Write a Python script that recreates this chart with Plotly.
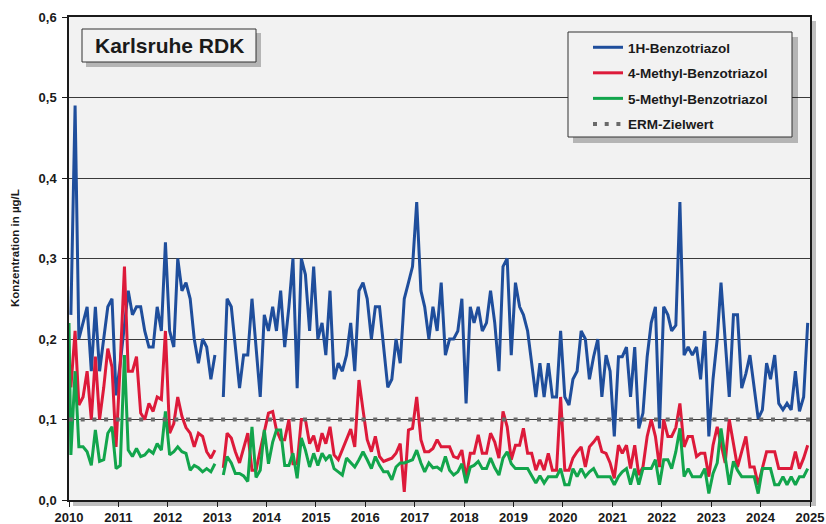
import pandas as pd
import plotly.graph_objects as go

# ---------------- data (monthly samples, Jan 2010 - Dec 2024) ----------------
MONTHS = (pd.date_range("2010-01-01", periods=180, freq="MS") + pd.Timedelta(days=14)).strftime("%Y-%m-%d").tolist()

BLUE = [
    0.23, 0.49, 0.20, 0.22, 0.24, 0.16, 0.24, 0.16, 0.20, 0.24, 0.25, 0.13,   # 2010
    0.17, 0.22, 0.26, 0.23, 0.24, 0.24, 0.21, 0.19, 0.19, 0.24, 0.21, 0.32,   # 2011
    0.21, 0.19, 0.30, 0.26, 0.27, 0.25, 0.20, 0.17, 0.20, 0.19, 0.15, 0.18,   # 2012
    None, 0.128, 0.25, 0.24, 0.19, 0.139, 0.18, 0.18, 0.25, 0.19, 0.128, 0.23,  # 2013
    0.21, 0.24, 0.21, 0.26, 0.19, 0.24, 0.30, 0.139, 0.30, 0.28, 0.21, 0.29,  # 2014
    0.20, 0.22, 0.18, 0.26, 0.15, 0.17, 0.16, 0.18, 0.22, 0.16, 0.26, 0.27,   # 2015
    0.25, 0.20, 0.24, 0.24, 0.19, 0.14, 0.15, 0.20, 0.17, 0.25, 0.27, 0.29,   # 2016
    0.37, 0.26, 0.24, 0.20, 0.24, 0.21, 0.27, 0.18, 0.20, 0.20, 0.21, 0.25,   # 2017
    0.12, 0.24, 0.22, 0.24, 0.21, 0.22, 0.26, 0.22, 0.16, 0.29, 0.30, 0.18,   # 2018
    0.27, 0.24, 0.23, 0.21, 0.17, 0.128, 0.17, 0.128, 0.17, 0.128, 0.128, 0.21,  # 2019
    0.128, 0.118, 0.15, 0.16, 0.21, 0.20, 0.15, 0.178, 0.20, 0.128, 0.18, 0.16,  # 2020
    0.079, 0.178, 0.178, 0.19, 0.128, 0.19, 0.089, 0.108, 0.178, 0.22, 0.24, 0.089,  # 2021
    0.24, 0.23, 0.21, 0.217, 0.37, 0.18, 0.19, 0.18, 0.19, 0.15, 0.21, 0.079,  # 2022
    0.15, 0.20, 0.27, 0.20, 0.128, 0.23, 0.23, 0.139, 0.157, 0.18, 0.139, 0.101,  # 2023
    0.112, 0.17, 0.15, 0.18, 0.12, 0.112, 0.12, 0.112, 0.16, 0.11, 0.128, 0.22,  # 2024
]

RED = [
    0.14, 0.21, 0.118, 0.128, 0.16, 0.10, 0.178, 0.10, 0.14, 0.188, 0.165, 0.066,  # 2010
    0.17, 0.29, 0.16, 0.16, 0.178, 0.108, 0.10, 0.12, 0.11, 0.128, 0.125, 0.21,    # 2011
    0.083, 0.095, 0.128, 0.104, 0.09, 0.083, 0.066, 0.083, 0.079, 0.06, 0.052, 0.062,  # 2012
    None, 0.04, 0.083, 0.077, 0.06, 0.046, 0.065, 0.083, 0.037, 0.037, 0.062, 0.085,   # 2013
    0.108, 0.11, 0.087, 0.075, 0.075, 0.10, 0.045, 0.045, 0.10, 0.10, 0.07, 0.08,      # 2014
    0.06, 0.083, 0.07, 0.091, 0.056, 0.05, 0.063, 0.075, 0.088, 0.066, 0.149, 0.112,   # 2015
    0.075, 0.06, 0.079, 0.054, 0.048, 0.05, 0.052, 0.058, 0.07, 0.01, 0.087, 0.089,    # 2016
    0.128, 0.075, 0.06, 0.06, 0.064, 0.075, 0.066, 0.066, 0.066, 0.054, 0.052, 0.062,  # 2017
    0.027, 0.058, 0.058, 0.081, 0.058, 0.058, 0.083, 0.072, 0.052, 0.11, 0.091, 0.05,  # 2018
    0.068, 0.068, 0.089, 0.058, 0.058, 0.037, 0.05, 0.037, 0.058, 0.037, 0.037, 0.128, # 2019
    0.037, 0.037, 0.052, 0.06, 0.066, 0.041, 0.066, 0.072, 0.079, 0.06, 0.058, 0.046,  # 2020
    0.027, 0.068, 0.058, 0.068, 0.039, 0.068, 0.031, 0.041, 0.079, 0.10, 0.079, 0.041, # 2021
    0.10, 0.079, 0.079, 0.09, 0.12, 0.066, 0.079, 0.079, 0.054, 0.058, 0.058, 0.029,   # 2022
    0.068, 0.091, 0.07, 0.046, 0.10, 0.068, 0.041, 0.06, 0.079, 0.041, 0.041, 0.019,   # 2023
    0.04, 0.06, 0.06, 0.06, 0.039, 0.039, 0.039, 0.039, 0.06, 0.039, 0.052, 0.068,     # 2024
]

GREEN_START = ("2010-01-01", 0.22)
GREEN = [
    0.056, 0.16, 0.066, 0.066, 0.06, 0.043, 0.087, 0.048, 0.05, 0.083, 0.091, 0.039,   # 2010
    0.043, 0.18, 0.062, 0.054, 0.064, 0.054, 0.056, 0.062, 0.058, 0.07, 0.062, 0.11,   # 2011
    0.056, 0.06, 0.066, 0.06, 0.058, 0.037, 0.043, 0.04, 0.035, 0.039, 0.035, 0.045,   # 2012
    None, 0.031, 0.054, 0.046, 0.033, 0.033, 0.03, 0.023, 0.091, 0.028, 0.037, 0.087,  # 2013
    0.045, 0.072, 0.087, 0.087, 0.043, 0.043, 0.058, 0.027, 0.077, 0.062, 0.041, 0.058,  # 2014
    0.043, 0.058, 0.05, 0.056, 0.039, 0.035, 0.031, 0.052, 0.046, 0.041, 0.05, 0.06,   # 2015
    0.05, 0.039, 0.054, 0.043, 0.035, 0.035, 0.025, 0.041, 0.046, 0.046, 0.048, 0.05,  # 2016
    0.062, 0.046, 0.035, 0.046, 0.04, 0.041, 0.037, 0.054, 0.037, 0.031, 0.035, 0.045, # 2017
    0.021, 0.041, 0.043, 0.048, 0.039, 0.039, 0.052, 0.04, 0.031, 0.052, 0.06, 0.045,  # 2018
    0.039, 0.039, 0.039, 0.039, 0.03, 0.021, 0.03, 0.021, 0.029, 0.029, 0.029, 0.039,  # 2019
    0.019, 0.019, 0.039, 0.029, 0.039, 0.029, 0.035, 0.039, 0.029, 0.029, 0.029, 0.029,  # 2020
    0.019, 0.029, 0.035, 0.039, 0.019, 0.039, 0.019, 0.039, 0.039, 0.039, 0.05, 0.019,  # 2021
    0.05, 0.05, 0.039, 0.06, 0.089, 0.029, 0.039, 0.029, 0.029, 0.029, 0.039, 0.008,   # 2022
    0.033, 0.046, 0.089, 0.05, 0.019, 0.048, 0.037, 0.029, 0.029, 0.029, 0.029, 0.008,  # 2023
    0.039, 0.039, 0.039, 0.019, 0.019, 0.029, 0.019, 0.029, 0.019, 0.029, 0.029, 0.039,  # 2024
]

ERM_TARGET = 0.1
ERM_SPAN = ["2010-01-01", "2025-01-01"]

SERIES_NAMES = ["1H-Benzotriazol", "4-Methyl-Benzotriazol", "5-Methyl-Benzotriazol", "ERM-Zielwert"]
YEAR_TICKS = [str(y) for y in range(2010, 2026)]
Y_TICKS = [0.0, 0.1, 0.2, 0.3, 0.4, 0.5, 0.6]
TITLE = "Karlsruhe RDK"
Y_TITLE = "Konzentration in µg/L"

# ---------------- layout geometry (pixels) ----------------
W, H = 826, 524
L, R, T, B = 69, 16, 17, 24
PW, PH = W - L - R, H - T - B


def px_x(x):
    return (x - L) / PW


def px_y(y):
    return (H - B - y) / PH


def box(x0, y0, x1, y1, fill, line=None, layer="above"):
    return dict(type="rect", xref="paper", yref="paper", layer=layer,
                x0=px_x(x0), x1=px_x(x1), y0=px_y(y1), y1=px_y(y0),
                fillcolor=fill, line=line or dict(width=0))


FONT = "Liberation Sans, Arial, sans-serif"
BLUE_C, RED_C, GREEN_C, GREY_C = "#1f4e9c", "#dd1a3a", "#12a54c", "#6a6a6a"
BG = "#f2f2f2"
SHADOW = "rgba(0,0,0,0.25)"

fig = go.Figure()

fig.add_trace(go.Scatter(x=MONTHS, y=BLUE, mode="lines", name=SERIES_NAMES[0],
                         line=dict(color=BLUE_C, width=3), legendgroup="a"))
fig.add_trace(go.Scatter(x=MONTHS, y=RED, mode="lines", name=SERIES_NAMES[1],
                         line=dict(color=RED_C, width=3), legendgroup="b"))
fig.add_trace(go.Scatter(x=[GREEN_START[0]] + MONTHS, y=[GREEN_START[1]] + GREEN, mode="lines",
                         name=SERIES_NAMES[2], line=dict(color=GREEN_C, width=3), legendgroup="c"))
fig.add_trace(go.Scatter(x=ERM_SPAN, y=[ERM_TARGET, ERM_TARGET], mode="lines", name=SERIES_NAMES[3],
                         line=dict(color=GREY_C, width=4, dash="4px,7.7px"), legendgroup="d"))

shapes = [
    # plot area shadow + background
    box(L + 4, T + 4, L + PW + 6, T + PH + 6, SHADOW, layer="below"),
    box(L, T, L + PW, T + PH, BG, layer="below"),
    # title box (shadow + box)
    box(86, 33, 261, 67, SHADOW),
    box(82, 29, 256, 62, BG, line=dict(color="#333333", width=1)),
    # legend box (shadow + box)
    box(573, 37, 798, 143, SHADOW),
    box(568, 32, 792, 137, BG, line=dict(color="#333333", width=1)),
]

fig.update_layout(
    width=W, height=H,
    margin=dict(l=L, r=R, t=T, b=B, autoexpand=False),
    paper_bgcolor="white",
    plot_bgcolor="rgba(0,0,0,0)",
    separators=",.",
    font=dict(family=FONT, size=12, color="#1a1a1a", weight="bold"),
    showlegend=True,
    legend=dict(
        x=px_x(588), y=px_y(32), xanchor="left", yanchor="top",
        bgcolor="rgba(0,0,0,0)", borderwidth=0,
        font=dict(family=FONT, size=13.5, color="#1a1a1a", weight="bold"),
        traceorder="grouped", tracegroupgap=5, itemwidth=30,
    ),
    shapes=shapes,
    annotations=[
        dict(text=TITLE, xref="paper", yref="paper", x=px_x(169), y=px_y(45.5),
             xanchor="center", yanchor="middle", showarrow=False,
             font=dict(family=FONT, size=21, color="#1a1a1a", weight="bold")),
        dict(text=Y_TITLE, xref="paper", yref="paper", x=px_x(15), y=px_y(248),
             xanchor="center", yanchor="middle", showarrow=False, textangle=-90,
             font=dict(family=FONT, size=11.5, color="#1a1a1a", weight="bold")),
    ],
    xaxis=dict(
        type="date", range=["2010-01-01", "2025-01-01"], automargin=False,
        tickmode="array", tickvals=[f"{y}-01-01" for y in YEAR_TICKS], ticktext=YEAR_TICKS,
        ticks="outside", ticklen=5, tickcolor="#1a1a1a", tickwidth=1, ticklabelstandoff=0,
        showline=True, linecolor="#1a1a1a", linewidth=1.5, mirror=True,
        showgrid=False, zeroline=False,
        tickfont=dict(family=FONT, size=13, color="#1a1a1a", weight="bold"),
    ),
    yaxis=dict(
        range=[0, 0.6], tickmode="array", tickvals=Y_TICKS, tickformat=".1f", automargin=False,
        ticks="outside", ticklen=5, tickcolor="#1a1a1a", tickwidth=1, ticklabelstandoff=3,
        showline=True, linecolor="#1a1a1a", linewidth=1.5, mirror=True,
        showgrid=True, gridcolor="#3a3a3a", gridwidth=1, zeroline=False,
        tickfont=dict(family=FONT, size=13, color="#1a1a1a", weight="bold"),
    ),
)

fig.write_html("out.html", config={"displayModeBar": False},
               post_script="document.body.style.margin='0';document.body.style.padding='0';")
